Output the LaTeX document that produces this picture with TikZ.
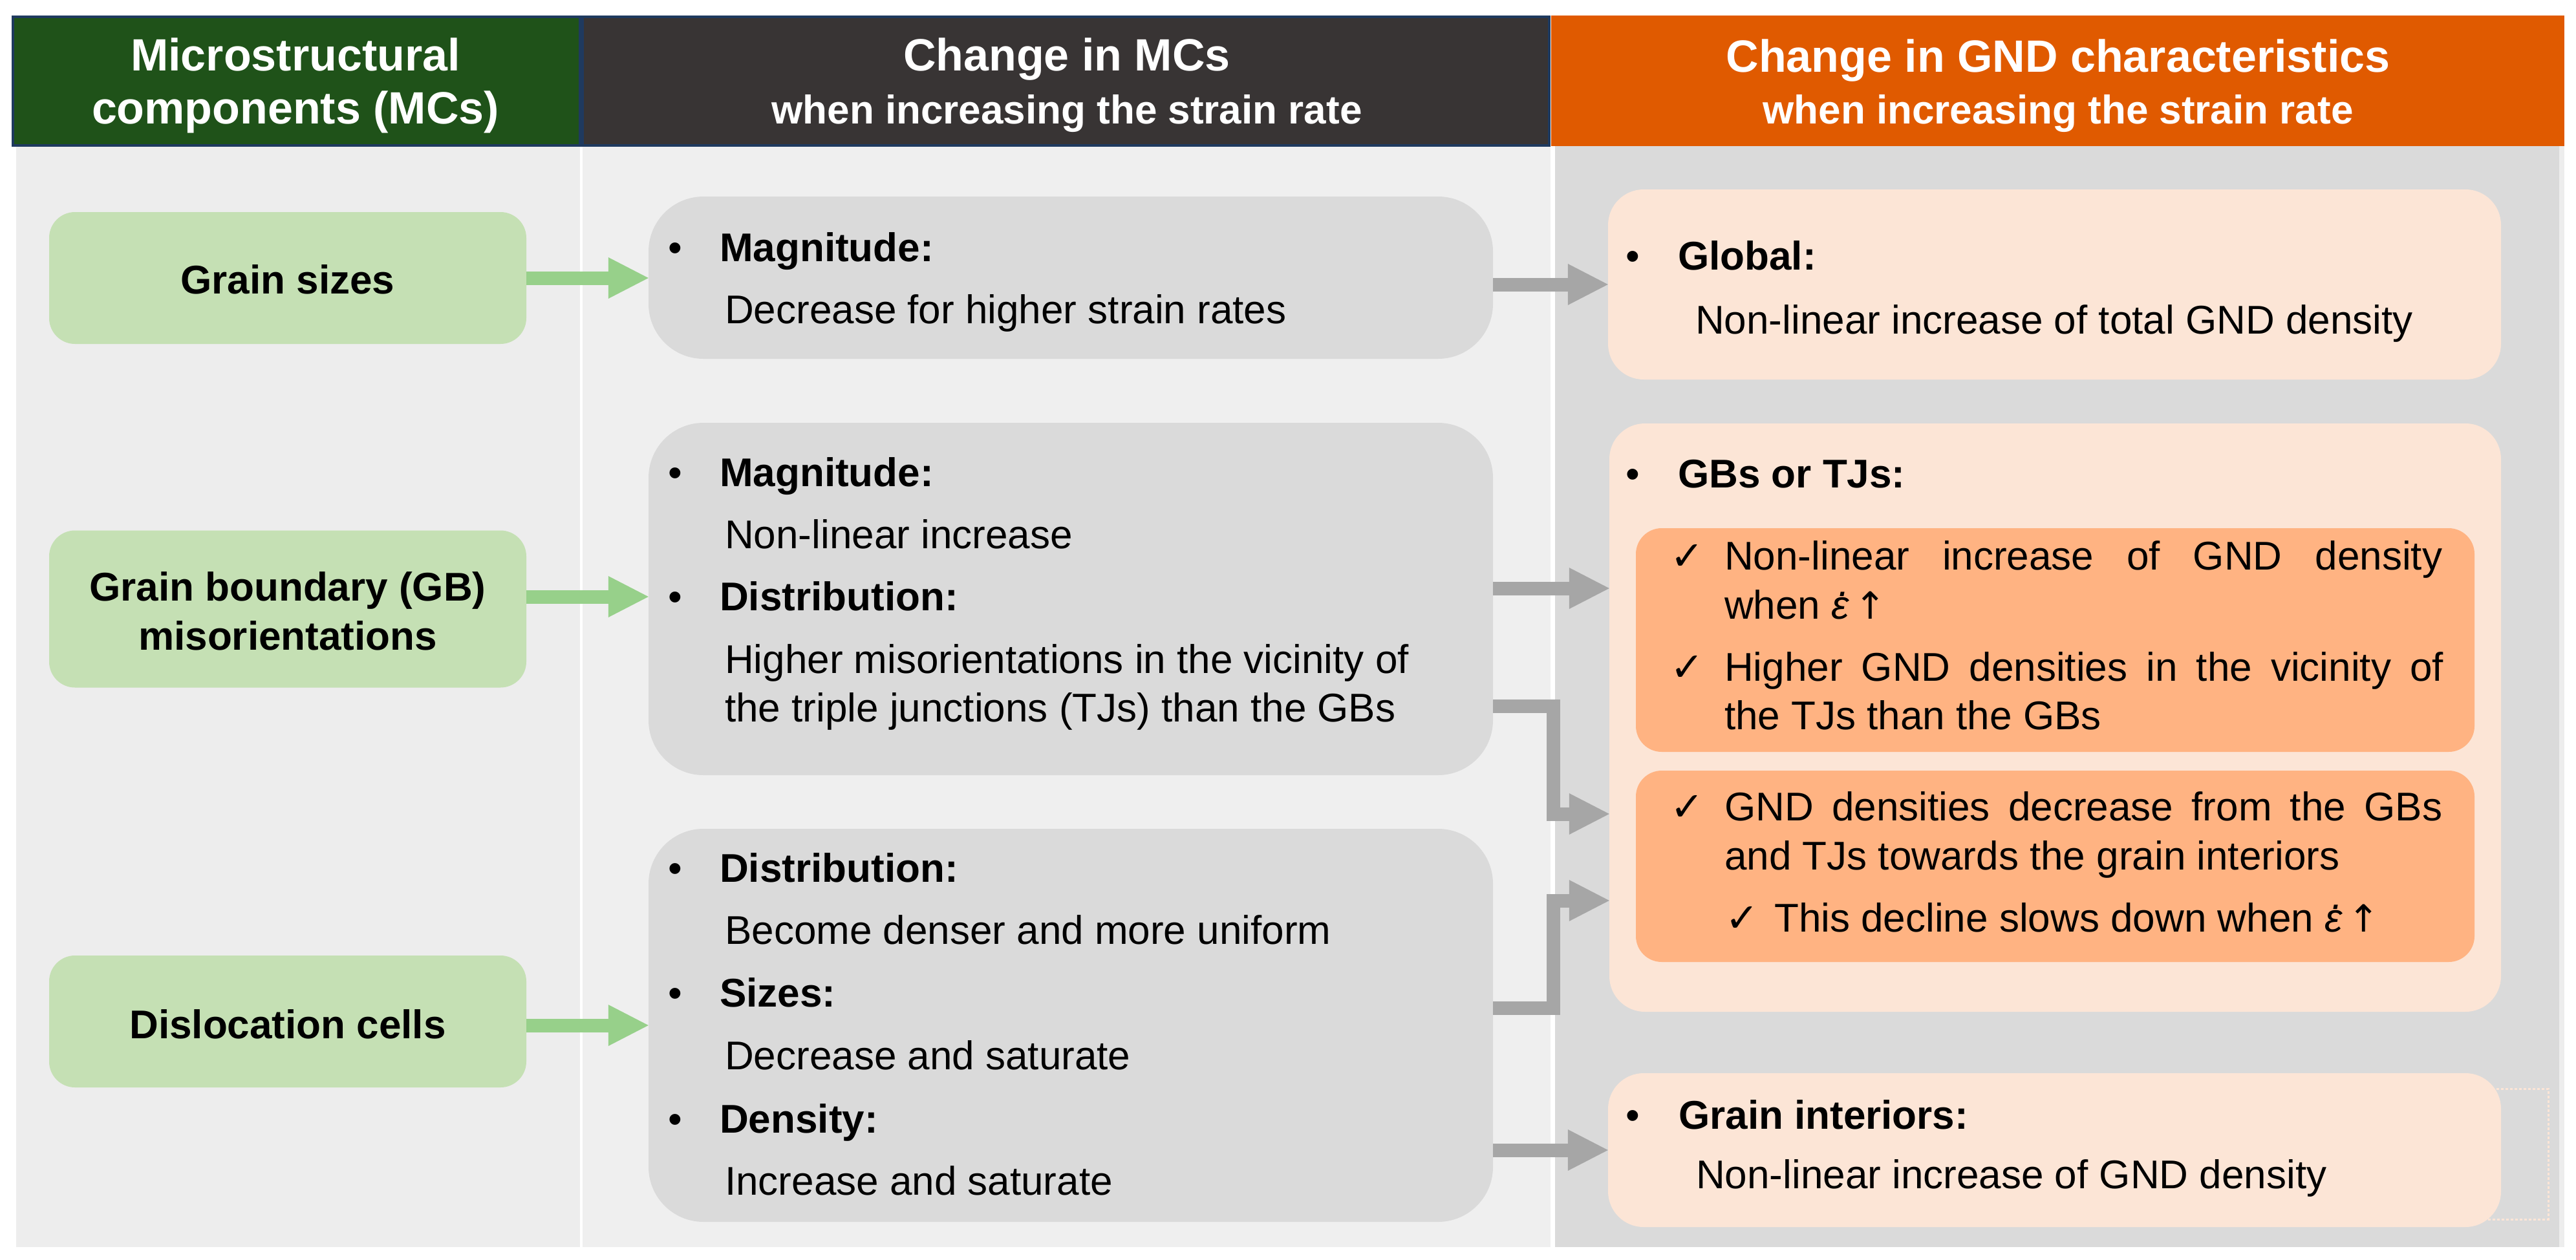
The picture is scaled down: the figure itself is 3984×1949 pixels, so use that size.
\documentclass[tikz,border=0pt]{standalone}
\usepackage{fontspec}
\setmainfont{Liberation Sans}
\newfontfamily\chkfont{DejaVu Sans}
\usetikzlibrary{arrows.meta}
\definecolor{hgreen}{HTML}{1F5219}
\definecolor{hgray}{HTML}{383434}
\definecolor{horange}{HTML}{E05A00}
\definecolor{hnavy}{HTML}{1F3A5F}
\definecolor{bodyA}{HTML}{EDEDED}
\definecolor{bodyB}{HTML}{EFEFEF}
\definecolor{bodyC}{HTML}{DADADA}
\definecolor{mcgreen}{HTML}{C5E0B4}
\definecolor{agreen}{HTML}{97D08A}
\definecolor{boxgray}{HTML}{DADADA}
\definecolor{agray}{HTML}{A6A6A6}
\definecolor{peach}{HTML}{FCE5D6}
\definecolor{orangein}{HTML}{FFB382}
\newcommand\fhead{\fontsize{70}{84}\selectfont\bfseries}
\newcommand\fsub{\fontsize{62}{74}\selectfont\bfseries}
\newcommand\fbody{\fontsize{62}{76}\selectfont}
\newcommand\fchk{\chkfont\fontsize{62}{66}\selectfont}
\newcommand\edotup{\textit{ε}\kern-0.27em\smash{\raisebox{0.56em}{\textit{.}}}\kern0.12em\smash{\chkfont\fontsize{58}{60}\selectfont ↑}}
\tikzset{
  mcbox/.style={fill=mcgreen, rounded corners=40pt, inner sep=0pt},
  chbox/.style={fill=boxgray, rounded corners=85pt, inner sep=0pt},
  gndbox/.style={fill=peach, rounded corners=55pt, inner sep=0pt},
  subbox/.style={fill=orangein, rounded corners=40pt, inner sep=0pt},
  garrow/.style={draw=agreen, line width=21pt, -{Triangle[length=62pt,width=64pt,line width=0pt]}},
  grarrow/.style={draw=agray, line width=21pt, line join=miter, -{Triangle[length=62pt,width=64pt,line width=0pt]}},
  htxt/.style={anchor=base, inner sep=0pt, text=white, font=\fhead},
  ctxt/.style={anchor=base, inner sep=0pt, font=\fbody\bfseries},
  bt/.style={anchor=base west, inner sep=0pt, font=\fbody, text height=46pt, text depth=6pt},
  bb/.style={anchor=base west, inner sep=0pt, font=\fbody\bfseries, text height=46pt, text depth=6pt},
  ck/.style={anchor=base west, inner sep=0pt, font=\fchk, text height=46pt, text depth=2pt},
}
\begin{document}
\begin{tikzpicture}[x=1pt,y=-1pt]
\useasboundingbox (0,0) rectangle (3984,1949);
\fill[white] (0,0) rectangle (3984,1949);
% column bodies
\fill[bodyA] (25,226) rectangle (897,1929);
\fill[bodyB] (901,226) rectangle (2398,1929);
\fill[bodyC] (2405,226) rectangle (3958,1929);
\fill[bodyA] (3958,226) rectangle (3966,1929);
% headers
\filldraw[fill=hgreen, draw=hnavy, line width=4pt] (20,26) rectangle (897,225);
\filldraw[fill=hgray, draw=hnavy, line width=4pt] (901,26) rectangle (2396,225);
\fill[horange] (2399,24) rectangle (3966,226);
\node[htxt] (h1a) at (457,109) {Microstructural};
\node[htxt] (h1b) at (457,191) {components (MCs)};
\node[htxt] (h2a) at (1650,109) {Change in MCs};
\node[htxt, font=\fsub] (h2b) at (1650,191) {when increasing the strain rate};
\node[htxt] (h3a) at (3183,111) {Change in GND characteristics};
\node[htxt, font=\fsub] (h3b) at (3183,191) {when increasing the strain rate};

% column 1 boxes
\node[mcbox, minimum width=738pt, minimum height=204pt] (gs) at (445,430) {};
\node[mcbox, minimum width=738pt, minimum height=243pt] (gb) at (445,942) {};
\node[mcbox, minimum width=738pt, minimum height=204pt] (dc) at (445,1580) {};
\node[ctxt] (gst) at (445,454) {Grain sizes};
\node[ctxt] (gbt1) at (445,929) {Grain boundary (GB)};
\node[ctxt] (gbt2) at (445,1005) {misorientations};
\node[ctxt] (dct) at (445,1606) {Dislocation cells};

% column 2 boxes
\node[chbox, minimum width=1306pt, minimum height=251pt] (ma) at (1656,429.5) {};
\node[chbox, minimum width=1306pt, minimum height=545pt] (mb) at (1656,926.5) {};
\node[chbox, minimum width=1306pt, minimum height=608pt] (mc) at (1656,1586) {};

\node[bt] (a0) at (1033,404) {•};
\node[bb] (a1) at (1113,404) {Magnitude:};
\node[bt] (a2) at (1121,500) {Decrease for higher strain rates};

\node[bt] (b0) at (1033,752) {•};
\node[bb] (b1) at (1113,752) {Magnitude:};
\node[bt] (b2) at (1121,848) {Non-linear increase};
\node[bt] (b3) at (1033,944) {•};
\node[bb] (b4) at (1113,944) {Distribution:};
\node[bt] (b5) at (1121,1041) {Higher misorientations in the vicinity of};
\node[bt] (b6) at (1121,1116) {the triple junctions (TJs) than the GBs};

\node[bt] (c0) at (1033,1364) {•};
\node[bb] (c1) at (1113,1364) {Distribution:};
\node[bt] (c2) at (1121,1460) {Become denser and more uniform};
\node[bt] (c3) at (1033,1557) {•};
\node[bb] (c4) at (1113,1557) {Sizes:};
\node[bt] (c5) at (1121,1654) {Decrease and saturate};
\node[bt] (c6) at (1033,1752) {•};
\node[bb] (c7) at (1113,1752) {Density:};
\node[bt] (c8) at (1121,1848) {Increase and saturate};

% column 3 boxes
\draw[peach, line width=3pt, dash pattern=on 4pt off 3pt] (3700,1684) rectangle (3941,1886);
\node[gndbox, minimum width=1381pt, minimum height=294pt] (glob) at (3177.5,440) {};
\node[gndbox, minimum width=1379pt, minimum height=910pt] (gbs) at (3178.5,1110) {};
\node[subbox, minimum width=1297pt, minimum height=346pt] (in1) at (3178.5,990) {};
\node[subbox, minimum width=1297pt, minimum height=296pt] (in2) at (3178.5,1340) {};
\node[gndbox, minimum width=1381pt, minimum height=238pt] (gi) at (3177.5,1779) {};

\node[bt] (g0) at (2514,417) {•};
\node[bb] (g1) at (2595,417) {Global:};
\node[bt] (g2) at (2622,516) {Non-linear increase of total GND density};

\node[bt] (t0) at (2514,754) {•};
\node[bb] (t1) at (2595,754) {GBs or TJs:};
\node[ck] (k1) at (2583,881) {✓};
\node[bt] (t2) at (2667,881) {\makebox[1110pt][s]{Non-linear increase of GND density}};
\node[bt] (t3) at (2667,957) {when \edotup};
\node[ck] (k2) at (2583,1053) {✓};
\node[bt] (t4) at (2667,1053) {\makebox[1112pt][s]{Higher GND densities in the vicinity of}};
\node[bt] (t5) at (2667,1128) {the TJs than the GBs};
\node[ck] (k3) at (2583,1269) {✓};
\node[bt] (t6) at (2667,1269) {\makebox[1110pt][s]{GND densities decrease from the GBs}};
\node[bt] (t7) at (2667,1345) {and TJs towards the grain interiors};
\node[ck] (k4) at (2668,1441) {✓};
\node[bt] (t8) at (2744,1441) {This decline slows down when \edotup};

\node[bt] (i0) at (2514,1746) {•};
\node[bb] (i1) at (2596,1746) {Grain interiors:};
\node[bt] (i2) at (2623,1838) {Non-linear increase of GND density};

% connectors
\coordinate (ex) at (2402,0);
\draw[garrow] (gs.east) -- (ma.west |- gs.east);
\draw[garrow] (gb.east |- 0,923) -- (mb.west |- 0,923);
\draw[garrow] (dc.east |- 0,1586) -- (mc.west |- 0,1586);
\draw[grarrow] (ma.east |- glob.west) -- (glob.west);
\draw[grarrow] (mb.east |- 0,910) -- (gbs.west |- 0,910);
\draw[grarrow] (mb.east |- 0,1092) -| (ex |- 0,1259) -- (gbs.west |- 0,1259);
\draw[grarrow] (mc.east |- 0,1559) -| (ex |- 0,1393) -- (gbs.west |- 0,1393);
\draw[grarrow] (mc.east |- gi.west) -- (gi.west);
\end{tikzpicture}
\end{document}
